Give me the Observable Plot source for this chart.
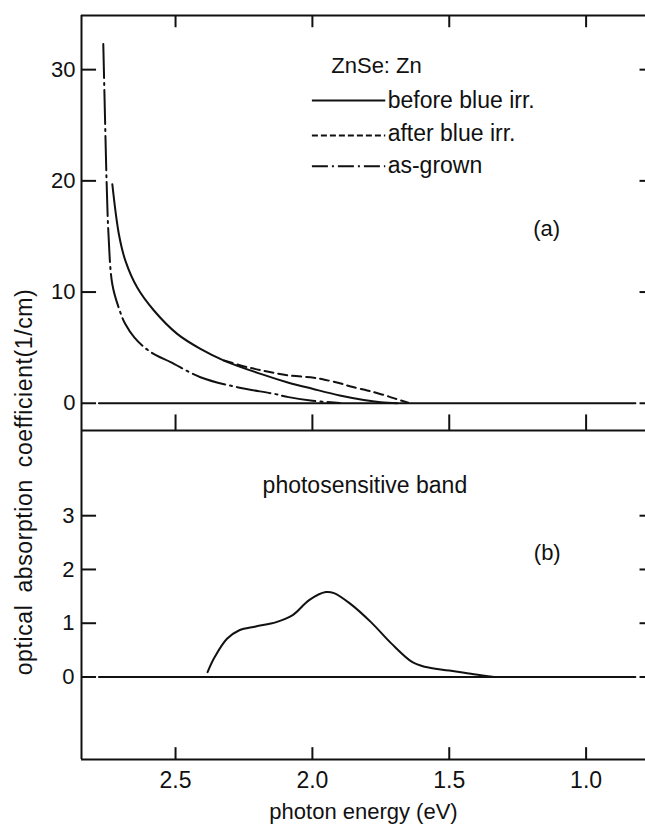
<!DOCTYPE html>
<html>
<head>
<meta charset="utf-8">
<script src="https://cdn.jsdelivr.net/npm/d3@7"></script>
<script src="https://cdn.jsdelivr.net/npm/@observablehq/plot@0.6"></script>
<style>
  html, body { margin: 0; padding: 0; background: #fff; overflow: hidden; }
  #wrap { position: relative; width: 645px; height: 832px; font-family: "Liberation Sans", Arial, sans-serif; color: #111; }
  #top, #bottom { position: absolute; left: 0; }
  #top { top: 0; }
  #bottom { top: 430px; }
  #ylabel { position: absolute; left: 24px; top: 482px; transform: translate(-50%, -50%) rotate(-90deg);
            white-space: nowrap; font-size: 23px; letter-spacing: 0.6px; word-spacing: 5px; line-height: 1; }
</style>
</head>
<body>
<div id="wrap">
  <div id="top"></div>
  <div id="bottom"></div>
  <div id="ylabel">optical absorption coefficient(1/cm)</div>
</div>
<script>
// ---------- data (photon energy in eV, absorption coefficient in 1/cm) ----------
const beforeE = [2.731, 2.707, 2.683, 2.640, 2.579, 2.494, 2.409, 2.323, 2.189, 2.087, 2.000, 1.900, 1.812, 1.750, 1.690];
const beforeV = [19.7, 15.2, 12.8, 10.4, 8.34, 6.24, 4.89, 3.84, 2.64, 1.85, 1.30, 0.70, 0.30, 0.10, 0.0];

const afterE = [2.323, 2.237, 2.165, 2.087, 1.995, 1.952, 1.900, 1.860, 1.800, 1.775, 1.720, 1.690, 1.650];
const afterV = [3.84, 3.24, 2.85, 2.50, 2.30, 2.10, 1.80, 1.50, 1.15, 0.99, 0.60, 0.35, 0.05];

const grownE = [2.764, 2.758, 2.752, 2.745, 2.731, 2.705, 2.683, 2.650, 2.610, 2.570, 2.518, 2.409, 2.274, 2.141, 2.087, 2.000, 1.900];
const grownV = [32.3, 26.0, 20.0, 15.2, 10.7, 8.4, 7.1, 5.9, 4.95, 4.3, 3.7, 2.34, 1.44, 0.85, 0.55, 0.22, 0.03];

const bandE = [2.383, 2.357, 2.312, 2.267, 2.207, 2.132, 2.072, 2.012, 1.951, 1.921, 1.861, 1.786, 1.711, 1.636, 1.590, 1.500, 1.410, 1.335];
const bandV = [0.09, 0.37, 0.71, 0.87, 0.94, 1.02, 1.15, 1.43, 1.58, 1.56, 1.36, 1.02, 0.62, 0.28, 0.19, 0.12, 0.05, 0.0];

const baselineE = [2.78, 0.82];
const baselineV = [0, 0];

const xTicks = [2.5, 2.0, 1.5, 1.0];
const yTicksA = [0, 10, 20, 30];
const yTicksB = [0, 1, 2, 3];

const legendLabels = ["before blue irr.", "after blue irr.", "as-grown"];
const materialLabel = "ZnSe: Zn";
const panelLabels = ["(a)", "(b)"];
const bandLabel = "photosensitive band";
const xTitle = "photon energy (eV)";

// ---------- helpers ----------
const zip = (E, V) => E.map((e, i) => ({E: e, v: V[i]}));
const before = zip(beforeE, beforeV);
const after = zip(afterE, afterV);
const grown = zip(grownE, grownV);
const band = zip(bandE, bandV);
const baseline = zip(baselineE, baselineV);

const xDomain = [2.8436, 0.783];
const yDomA = [-2.45, 34.87];
const yDomB = [-1.535, 4.585];
const ink = "#111";
const font = "Liberation Sans, Arial, sans-serif";
const dashed = "9,5";
const dashDot = "34,5,2,5";
// inward tick lengths expressed in data units of each scale
const xTickLen = 0.055, xTickLenR = 0.02;
const sw = 2;

// ---------- top panel (a) ----------
const topPlot = Plot.plot({
  width: 645, height: 431,
  marginLeft: 81, marginRight: 0, marginTop: 15, marginBottom: 1,
  style: {fontFamily: font, fontSize: "22px", background: "transparent", overflow: "visible", color: ink},
  x: {domain: xDomain, axis: null},
  y: {domain: yDomA},
  marks: [
    // frame
    Plot.ruleY([yDomA[1]], {stroke: ink, strokeWidth: sw}),
    Plot.ruleY([yDomA[0]], {stroke: ink, strokeWidth: sw}),
    Plot.ruleX([xDomain[0]], {stroke: ink, strokeWidth: sw}),
    // inward ticks
    Plot.ruleY(yTicksA, {x1: xDomain[0], x2: xDomain[0] - xTickLen, stroke: ink, strokeWidth: sw}),
    Plot.ruleY(yTicksA, {x1: xDomain[1], x2: xDomain[1] + xTickLenR, stroke: ink, strokeWidth: sw}),
    Plot.ruleX(xTicks, {y1: yDomA[1], y2: yDomA[1] - 1.1, stroke: ink, strokeWidth: sw}),
    Plot.ruleX(xTicks, {y1: yDomA[0], y2: yDomA[0] + 1.4, stroke: ink, strokeWidth: sw}),
    Plot.axisY({ticks: yTicksA, anchor: "left", tickSize: 0, tickPadding: 6, fontSize: 22, label: null, tickFormat: d => String(d)}),
    // baseline
    Plot.line(baseline, {x: "E", y: "v", stroke: ink, strokeWidth: sw}),
    // curves
    Plot.line(grown, {x: "E", y: "v", stroke: ink, strokeWidth: sw, strokeDasharray: dashDot, curve: "catmull-rom"}),
    Plot.line(after, {x: "E", y: "v", stroke: ink, strokeWidth: sw, strokeDasharray: dashed, curve: "catmull-rom"}),
    Plot.line(before, {x: "E", y: "v", stroke: ink, strokeWidth: sw, curve: "catmull-rom"}),
    // legend
    Plot.text([materialLabel], {x: 1.931, y: 30.37, textAnchor: "start", fontSize: 22, fill: ink, lineAnchor: "middle"}),
    Plot.ruleY([27.22], {x1: 2.0, x2: 1.732, stroke: ink, strokeWidth: sw}),
    Plot.ruleY([24.07], {x1: 2.0, x2: 1.732, stroke: ink, strokeWidth: sw, strokeDasharray: "6,3"}),
    Plot.ruleY([21.31], {x1: 2.0, x2: 1.732, stroke: ink, strokeWidth: sw, strokeDasharray: "16,4,2,4"}),
    Plot.text(legendLabels, {x: 1.725, y: (d, i) => [27.22, 24.25, 21.38][i], textAnchor: "start", lineAnchor: "middle",
      fontSize: 23, fill: ink, style: "word-spacing:6px"}),
    Plot.text([panelLabels[0]], {x: 1.144, y: 15.71, textAnchor: "middle", lineAnchor: "middle", fontSize: 22, fill: ink})
  ]
});
document.getElementById("top").append(topPlot);

// ---------- bottom panel (b) ----------
const bottomPlot = Plot.plot({
  width: 645, height: 402,
  marginLeft: 81, marginRight: 0, marginTop: 0, marginBottom: 73,
  style: {fontFamily: font, fontSize: "22px", background: "transparent", overflow: "visible", color: ink},
  x: {domain: xDomain},
  y: {domain: yDomB},
  marks: [
    Plot.ruleY([yDomB[0]], {stroke: ink, strokeWidth: sw}),
    Plot.ruleX([xDomain[0]], {stroke: ink, strokeWidth: sw}),
    Plot.ruleY(yTicksB, {x1: xDomain[0], x2: xDomain[0] - xTickLen, stroke: ink, strokeWidth: sw}),
    Plot.ruleY(yTicksB, {x1: xDomain[1], x2: xDomain[1] + xTickLenR, stroke: ink, strokeWidth: sw}),
    Plot.ruleX(xTicks, {y1: yDomB[0], y2: yDomB[0] + 0.22, stroke: ink, strokeWidth: sw}),
    Plot.axisY({ticks: yTicksB, anchor: "left", tickSize: 0, tickPadding: 7, fontSize: 22, label: null, tickFormat: d => String(d)}),
    Plot.axisX({ticks: xTicks, anchor: "bottom", tickSize: 0, tickPadding: 12, fontSize: 23, label: null, tickFormat: d => d.toFixed(1)}),
    Plot.line(baseline, {x: "E", y: "v", stroke: ink, strokeWidth: sw}),
    Plot.line(band, {x: "E", y: "v", stroke: ink, strokeWidth: sw, curve: "catmull-rom"}),
    Plot.text([bandLabel], {x: 2.182, y: 3.566, textAnchor: "start", lineAnchor: "middle", fontSize: 23, fill: ink, style: "word-spacing:3px;letter-spacing:0.3px"}),
    Plot.text([panelLabels[1]], {x: 1.142, y: 2.30, textAnchor: "middle", lineAnchor: "middle", fontSize: 22, fill: ink}),
    Plot.text([xTitle], {frameAnchor: "bottom", dy: 52, textAnchor: "middle", lineAnchor: "middle", fontSize: 22, fill: ink,
      style: "word-spacing:5px;letter-spacing:0.6px"})
  ]
});
document.getElementById("bottom").append(bottomPlot);
</script>
</body>
</html>
